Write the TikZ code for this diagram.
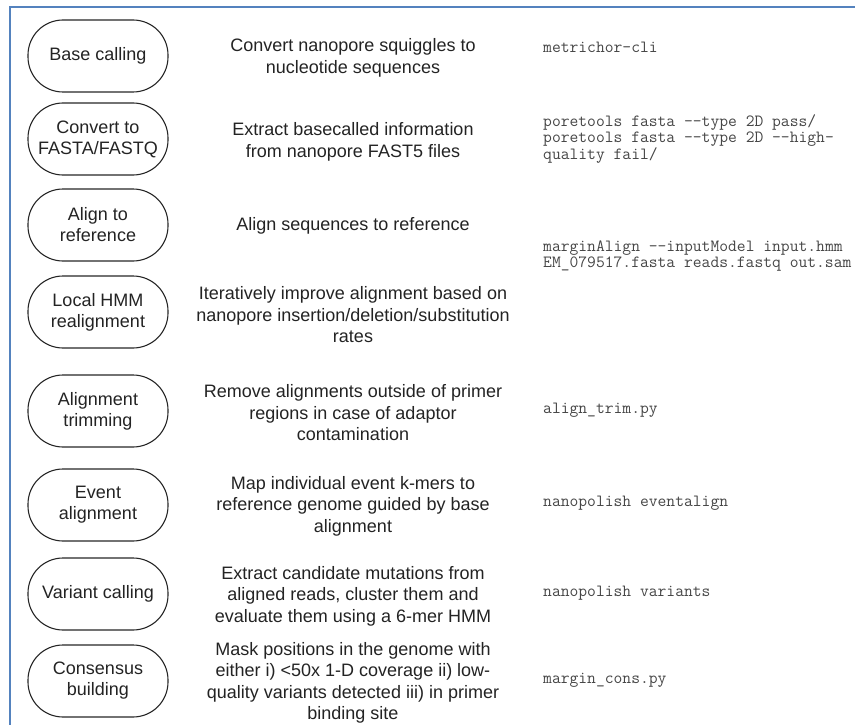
\documentclass[tikz,border=0pt]{standalone}
\usepackage{fontspec}
\setmainfont{Liberation Sans}
\definecolor{framecol}{RGB}{84,130,190}
\definecolor{txtcol}{RGB}{35,35,35}
\definecolor{codecol}{RGB}{70,70,70}
\begin{document}
\begin{tikzpicture}[x=1pt,y=-1pt,
  stepoval/.style={draw=black!85,line width=1.1pt,rounded corners=35pt,minimum width=140pt,minimum height=72pt,align=center,font=\fontsize{18}{21}\selectfont,text=txtcol,inner sep=0pt},
  desc/.style={align=center,font=\fontsize{18}{21.5}\selectfont,text=txtcol,inner sep=0pt},
  code/.style={anchor=west,align=left,font=\ttfamily\fontsize{17.1}{16.7}\selectfont,text=codecol,inner sep=0pt}]
\useasboundingbox (0,0) rectangle (855,725);
\draw[framecol,line width=1.5pt] (10,740) -- (10,7) -- (870,7);
% ovals
\node[stepoval] (s1) at (98,56) {Base calling};
\node[stepoval] (s2) at (98,139) {Convert to\\FASTA/FASTQ};
\node[stepoval] (s3) at (98,225) {Align to\\reference};
\node[stepoval] (s4) at (98,312) {Local HMM\\realignment};
\node[stepoval] (s5) at (98,411) {Alignment\\trimming};
\node[stepoval] (s6) at (98,505) {Event\\alignment};
\node[stepoval] (s7) at (98,594) {Variant calling};
\node[stepoval] (s8) at (98,681) {Consensus\\building};
% descriptions
\node[desc] (d1) at (353,58) {Convert nanopore squiggles to\\nucleotide sequences};
\node[desc] (d2) at (353,142) {Extract basecalled information\\from nanopore FAST5 files};
\node[desc] (d3) at (353,226) {Align sequences to reference};
\node[desc] (d4) at (353,315) {Iteratively improve alignment based on\\nanopore insertion/deletion/substitution\\rates};
\node[desc] (d5) at (353,413) {Remove alignments outside of primer\\regions in case of adaptor\\contamination};
\node[desc] (d6) at (353,506) {Map individual event k-mers to\\reference genome guided by base\\alignment};
\node[desc] (d7) at (353,596) {Extract candidate mutations from\\aligned reads, cluster them and\\evaluate them using a 6-mer HMM};
\node[desc] (d8) at (353,683) {Mask positions in the genome with\\either i) <50x 1-D coverage ii) low-\\quality variants detected iii) in primer\\binding site};
% commands
\node[code] (c1) at (543,47) {metrichor-cli};
\node[code] (c2) at (543,139) {poretools fasta --type 2D pass/\\poretools fasta --type 2D --high-\\quality fail/};
\node[code] (c3) at (543,256) {marginAlign --inputModel input.hmm\\EM\_079517.fasta reads.fastq out.sam};
\node[code] (c5) at (543,410) {align\_trim.py};
\node[code] (c6) at (543,503) {nanopolish eventalign};
\node[code] (c7) at (543,593) {nanopolish variants};
\node[code] (c8) at (543,680) {margin\_cons.py};
\end{tikzpicture}
\end{document}
